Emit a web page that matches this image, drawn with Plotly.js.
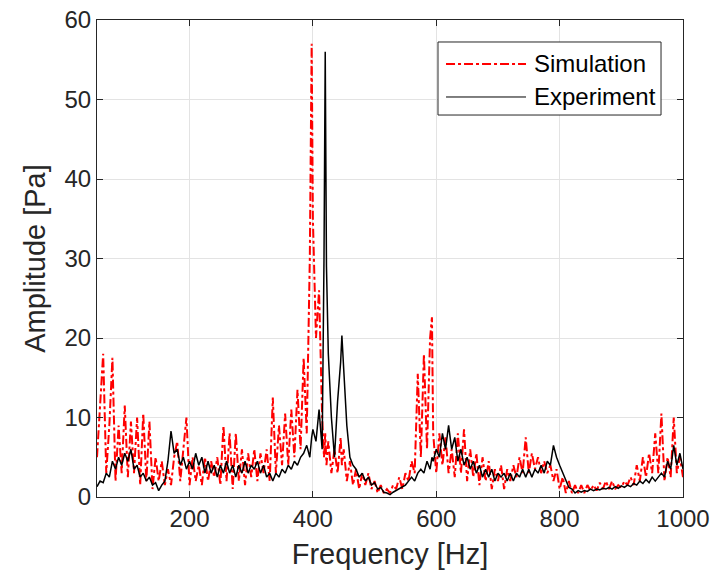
<!DOCTYPE html>
<html>
<head>
<meta charset="utf-8">
<script src="https://cdn.plot.ly/plotly-3.0.1.min.js"></script>
<style>html,body{margin:0;padding:0;background:#fff;}#chart{width:713px;height:581px;}</style>
</head>
<body>
<div id="chart"></div>
<script>
// Frequency grid [Hz]
var freq = [
  50,55,60,65,70,75,80,85,90,95,
  100,105,110,115,120,125,130,135,140,145,
  150,155,160,165,170,175,180,185,190,195,
  200,205,210,215,220,225,230,235,240,245,
  250,255,260,265,270,275,280,285,290,295,
  300,305,310,315,320,325,330,335,340,345,
  350,355,360,365,370,375,380,385,390,395,
  398,400,405,410,415,418,420,422,425,430,
  435,440,445,447,450,455,460,465,470,475,
  480,485,490,495,500,505,510,515,520,525,
  530,535,540,545,550,555,560,565,570,575,
  580,585,590,593,595,600,605,610,615,620,
  625,630,635,640,645,650,655,660,665,670,
  675,680,685,690,695,700,705,710,715,720,
  725,730,735,740,745,750,755,760,765,770,
  775,780,785,790,795,800,805,810,815,820,
  825,830,835,840,845,850,855,860,865,870,
  875,880,885,890,895,900,905,910,915,920,
  925,930,935,940,945,950,955,960,965,970,
  975,980,985,990,995,1000
];
// Simulation amplitude [Pa]
var simulation = [
  5,12,18,3,9,17.5,2,9,3,11.5,
  2.5,9.5,3,10,1.5,10.5,2,9.5,1,5,
  2,4.5,1.5,3.5,1.5,5,7,2,6,10,
  1.5,5,2,4,1.5,5,2,4.5,2.5,5,
  1.5,9,2,8,1,8,2,6,1.5,5.5,
  2.5,6,2,5.5,3,6,2,12.5,3,9,
  4,10.5,4,11,5,13.5,6,17.5,8,30,
  57,35,20,26,10,5,8,4,7,3,
  6,3,7.5,4,6,2,4.5,1.5,3.5,1,
  3,1.5,3,1,2,0.5,1.5,0.5,1,0.5,
  1.5,1,2.5,1,3,2,4.5,3,15.5,5,
  18,6,20,22.6,8,3,8,4,7.5,3,
  6,2.5,8,3,8.5,2,6,2.5,5.5,1.5,
  5,2,4.5,1,3.5,2,4,1,3.5,2,
  4,2.5,5,3,7.5,3,5.5,3.5,5,3,
  4.5,3,4,2,3.5,1,2.5,0.5,2,0.5,
  1.5,0.5,1.5,0.5,1.5,0.8,1.5,0.8,1.8,1,
  2,1,2,1,1.5,1.2,2,1.5,2.5,1.5,
  4,2,5,2.5,5.5,3,8,3,10.5,2,
  5,2.5,10,3,5,2.5
];
// Experiment amplitude [Pa]
var experiment = [
  1.3,2,1.8,3,2.5,4.5,3.5,5,4,5.5,
  4.5,6,3.5,4,2.5,3,2,2.5,1.5,1.8,
  0.8,1.5,2,4.5,8.3,5.5,6,4,5,3.5,
  4.5,3.5,5.5,4,5,3,4.5,3,4,2.5,
  4,3,4.5,3,4,2.5,4,3,4.5,3,
  4,3.5,4.5,3,4,2.5,3,2,3,2.5,
  3.5,3,4,3.5,4.5,4,5,5.5,6.5,5,
  7.5,8.5,7,11,6,30,56,29,18,10,
  5,12,17,20.3,16,9,5,4,3.5,2.5,
  3,2,2.5,1.5,1.8,1,1.2,0.6,0.5,0.3,
  0.6,0.8,1,1.2,1.5,2,2.5,2,3,3.5,
  3,4.5,3.5,5,4.5,6,5,8,6,9,
  6,7.5,4.5,6,4,5,3.5,4.5,3,4,
  2.5,3.5,2.5,3.5,2,3,2.5,3,2,3,
  2,3,2.5,3.5,2.5,3.5,2.5,3.5,3,4,
  3,4.5,4,6.5,5,4,3,2,1.2,1,
  0.5,0.8,0.6,0.8,0.7,1,0.8,1,0.9,1.1,
  1,1.2,1,1.3,1.1,1.4,1.2,1.5,1.3,1.7,
  1.5,2,1.7,2.2,1.8,2.5,2,2.5,3,2.5,
  4.5,3.5,6.5,4,5.5,3.5
];
var seriesNames = ["Simulation", "Experiment"];
var xTicks = [200, 400, 600, 800, 1000];
var yTicks = [0, 10, 20, 30, 40, 50, 60];

var axisColor = "#262626";
var fontFam = "'Liberation Sans', Arial, sans-serif";
var simStyle = {color: "#ff0000", width: 2, dash: "dashdot"};
var expStyle = {color: "#000000", width: 1.5};

var traces = [
  {x: freq, y: simulation, name: seriesNames[0], type: "scatter", mode: "lines", line: simStyle},
  {x: freq, y: experiment, name: seriesNames[1], type: "scatter", mode: "lines", line: expStyle}
];

// legend box drawn in paper coordinates
var lg = {x0: 0.5819, x1: 0.9625, y0: 0.8008, y1: 0.9539,
          lx0: 0.5956, lx1: 0.7321, tx: 0.7423, r1: 0.9078, r2: 0.8386};

var layout = {
  width: 713, height: 581,
  margin: {l: 97, r: 30, t: 20, b: 84},
  paper_bgcolor: "#ffffff", plot_bgcolor: "#ffffff",
  font: {family: fontFam, color: axisColor, size: 24},
  showlegend: false,
  xaxis: {range: [50, 1000], tickvals: xTicks, ticktext: xTicks.map(String),
    showgrid: true, gridcolor: "#e3e3e3", gridwidth: 1, zeroline: false,
    showline: true, linecolor: axisColor, linewidth: 1, mirror: "ticks",
    ticks: "inside", ticklen: 6, tickcolor: axisColor,
    tickfont: {size: 24, family: fontFam, color: axisColor},
    title: {text: "Frequency [Hz]", font: {size: 29, family: fontFam, color: axisColor}, standoff: 12}},
  yaxis: {range: [0, 60], tickvals: yTicks, ticktext: yTicks.map(String),
    showgrid: true, gridcolor: "#e3e3e3", gridwidth: 1, zeroline: false,
    showline: true, linecolor: axisColor, linewidth: 1, mirror: "ticks",
    ticks: "inside", ticklen: 6, tickcolor: axisColor,
    tickfont: {size: 24, family: fontFam, color: axisColor},
    title: {text: "Amplitude [Pa]", font: {size: 29, family: fontFam, color: axisColor}, standoff: 10}},
  shapes: [
    {type: "rect", xref: "paper", yref: "paper", x0: lg.x0, x1: lg.x1, y0: lg.y0, y1: lg.y1,
     fillcolor: "#ffffff", line: {color: axisColor, width: 1}, layer: "above"},
    {type: "line", xref: "paper", yref: "paper", x0: lg.lx0, x1: lg.lx1, y0: lg.r1, y1: lg.r1,
     line: simStyle, layer: "above"},
    {type: "line", xref: "paper", yref: "paper", x0: lg.lx0, x1: lg.lx1, y0: lg.r2, y1: lg.r2,
     line: {color: "#000000", width: 1}, layer: "above"}
  ],
  annotations: [
    {xref: "paper", yref: "paper", x: lg.tx, y: lg.r1, xanchor: "left", yanchor: "middle",
     text: seriesNames[0], showarrow: false, font: {size: 24, family: fontFam, color: "#000000"}},
    {xref: "paper", yref: "paper", x: lg.tx, y: lg.r2, xanchor: "left", yanchor: "middle",
     text: seriesNames[1], showarrow: false, font: {size: 24, family: fontFam, color: "#000000"}}
  ]
};

Plotly.newPlot("chart", traces, layout, {staticPlot: true, displayModeBar: false});
</script>
</body>
</html>
